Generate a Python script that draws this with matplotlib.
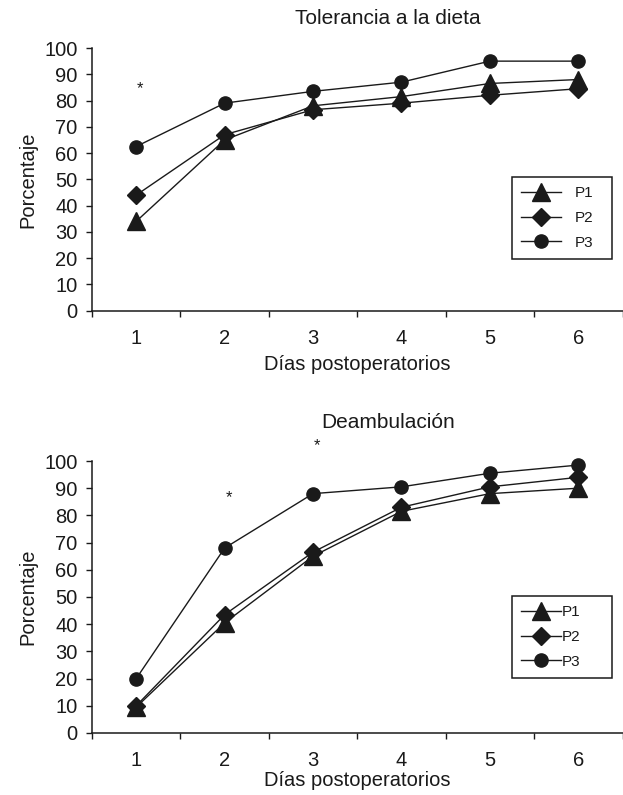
import matplotlib
matplotlib.use("Agg")
from matplotlib import pyplot as plt

#   Data
dias = [1, 2, 3, 4, 5, 6]
etiquetas = ["P1", "P2", "P3"]

tol_p1 = [34, 65, 78, 81.5, 86.5, 88]
tol_p2 = [44, 67, 76.5, 79, 82, 84.5]
tol_p3 = [62.5, 79, 83.5, 87, 95, 95]

deamb_p1 = [9.5, 40.5, 65, 81.5, 88, 90]
deamb_p2 = [10, 43.5, 66.5, 83, 90.5, 94]
deamb_p3 = [20, 68, 88, 90.5, 95.5, 98.5]

#   significance marks (day, value)
tol_stars = [(1.04, 84.6)]
deamb_stars = [(2.05, 86.5), (3.05, 105.5)]

plt.rcParams['font.family'] = ['Liberation Sans', 'DejaVu Sans']
ink = '#1a1a1a'

W, H = 623, 795
fig = plt.figure(figsize=(W / 100, H / 100), dpi=100)

markers = ['^', 'D', 'o']
msizes = [12.5, 9, 9.5]


def panel(top_px, bot_px, series, stars, title, title_px, xlab_px, leg_top, leg_gap):
    ax = fig.add_axes([92 / W, 1 - bot_px / H, (622.5 - 92) / W, (bot_px - top_px) / H])
    for vals, m, ms, lab in zip(series, markers, msizes, etiquetas):
        ax.plot(dias, vals, color=ink, lw=1.0, marker=m, ms=ms, label=lab,
                clip_on=False)
    for x, y in stars:
        ax.text(x, y, '*', fontsize=12, ha='center', va='center', color=ink,
                clip_on=False)
    ax.set_xlim(0.5, 6.5)
    ax.set_ylim(0, 100)
    ax.set_yticks(range(0, 101, 10))
    ax.set_xticks(dias)
    ax.set_xticks([d + 0.5 for d in [0] + dias], minor=True)
    ax.tick_params(axis='x', which='major', length=0, pad=13, labelsize=14.5, labelcolor=ink)
    ax.tick_params(axis='x', which='minor', length=4.5, width=1.0, color=ink)
    ax.tick_params(axis='y', length=4.5, width=1.0, color=ink, pad=6, labelsize=14.5, labelcolor=ink)
    for s in ['top', 'right']:
        ax.spines[s].set_visible(False)
    for s in ['left', 'bottom']:
        ax.spines[s].set_linewidth(1.1)
        ax.spines[s].set_color(ink)
    fig.text(388 / W, 1 - title_px / H, title, fontsize=15, ha='center', va='center', color=ink)
    fig.text(357 / W, 1 - xlab_px / H, 'Días postoperatorios', fontsize=14.5,
             ha='center', va='center', color=ink)
    fig.text(28 / W, 1 - (top_px + bot_px) / 2 / H, 'Porcentaje', fontsize=14.5, rotation=90,
             ha='center', va='center', color=ink)
    leg = ax.legend(loc='upper left',
                    bbox_to_anchor=(512 / W, 1 - (leg_top + 83) / H, 100 / W, 83 / H),
                    bbox_transform=fig.transFigure, mode='expand', fancybox=False,
                    edgecolor=ink, framealpha=1, fontsize=11, handlelength=2.6,
                    handletextpad=leg_gap, labelspacing=0.7, borderpad=0.6,
                    borderaxespad=0, numpoints=1)
    leg.get_frame().set_linewidth(1.1)
    for t in leg.get_texts():
        t.set_color(ink)
    return ax


panel(48, 310.7, [tol_p1, tol_p2, tol_p3], tol_stars, 'Tolerancia a la dieta', 18, 364, 177, 0.9)
panel(461, 733, [deamb_p1, deamb_p2, deamb_p3], deamb_stars, 'Deambulación', 423, 780, 596, 0.05)

fig.savefig('out.png', dpi=100)
